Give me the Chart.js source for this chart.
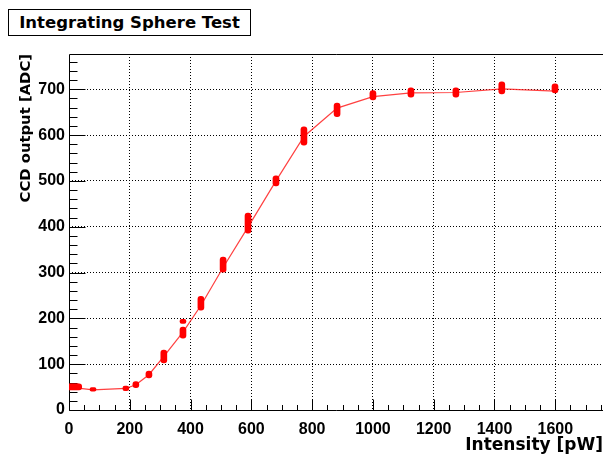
<!DOCTYPE html>
<html><head><meta charset="utf-8">
<script src="https://cdn.jsdelivr.net/npm/chart.js@4/dist/chart.umd.min.js"></script>
<style>
html,body{margin:0;padding:0;background:#fff;overflow:hidden;}
#wrap{position:relative;width:603px;height:455px;}
canvas{position:absolute;left:0;top:0;}
#title{position:absolute;left:8px;top:9px;width:241px;height:25px;border:1px solid #000;
  font:bold 16.5px "DejaVu Sans";line-height:25px;text-align:center;background:#fff;color:#000;white-space:nowrap;}
</style></head>
<body><div id="wrap"><canvas id="c" width="603" height="455"></canvas><div id="title">Integrating Sphere Test</div></div>
<script>
// measured clusters (vertical extents of the stacked red markers)
const measX    = [2, 8, 14, 20, 26, 32, 79, 187, 220, 263, 312, 375, 375, 434, 507, 589, 681, 773, 882, 1000, 1125, 1273, 1424, 1599];
const measLow  = [44, 44, 44, 44, 44, 44, 41, 42, 49, 70, 103, 157, 189, 218, 301, 386, 489, 578, 640, 677, 683, 683, 690, 692];
const measHigh = [57, 57, 57, 57, 57, 57, 49, 52, 62, 85, 131, 181, 198, 248, 334, 430, 511, 618, 670, 697, 703, 703, 716, 712];
// connecting curve
const lineX = [2, 79, 187, 220, 263, 312, 375, 434, 507, 589, 681, 773, 882, 1000, 1125, 1273, 1424, 1599];
const lineY = [50, 44, 47, 55, 77, 117, 170, 228, 311, 399, 500, 597, 659, 684, 692, 693, 701, 696];
// axes
const xMin = 0, xMax = 1757, xMajor = 200, xMinor = 50;
const yMin = 0, yMax = 777, yMajor = 100, yMinor = 20;
const xTitle = 'Intensity [pW]';
const yTitle = 'CCD output [ADC]';

const frameTicks = {
  id: 'frameTicks',
  beforeDatasetsDraw(chart) {
    const {ctx, chartArea: a, scales: {x, y}} = chart;
    ctx.save();
    ctx.strokeStyle = '#000';
    ctx.lineWidth = 1;
    ctx.beginPath();
    const L = Math.round(a.left) + 0.5, T = Math.round(a.top) + 0.5, B = Math.round(a.bottom) + 0.5, R = a.right + 2;
    ctx.moveTo(R, T); ctx.lineTo(L, T); ctx.lineTo(L, B); ctx.lineTo(R, B);
    for (let v = xMin; v <= x.max; v += xMinor) {
      const px = Math.round(x.getPixelForValue(v)) + 0.5;
      const len = (v % xMajor === 0) ? 11 : 5.5;
      ctx.moveTo(px, B); ctx.lineTo(px, B - len);
    }
    for (let v = yMin; v <= y.max; v += yMinor) {
      const py = Math.round(y.getPixelForValue(v)) + 0.5;
      const len = (v % yMajor === 0) ? 16 : 8;
      ctx.moveTo(L, py); ctx.lineTo(L + len, py);
    }
    ctx.stroke();
    ctx.restore();
  }
};

const tickFont = {family: 'Liberation Sans', weight: 'bold', size: 16};
const gridColor = c => (c.tick && c.tick.value === 0) ? 'rgba(0,0,0,0)' : '#000';
const plain = v => String(v);

new Chart(document.getElementById('c'), {
  data: {
    datasets: [
      {
        type: 'bar',
        data: measX.map((x, i) => ({x: x, y: [measLow[i], measHigh[i]]})),
        backgroundColor: '#ff0000',
        barThickness: 6,
        borderRadius: 3,
        borderSkipped: false,
        order: 0
      },
      {
        type: 'line',
        data: lineX.map((x, i) => ({x: x, y: lineY[i]})),
        borderColor: 'rgba(255,30,30,0.85)',
        borderWidth: 1.2,
        pointRadius: 0,
        tension: 0,
        fill: false,
        order: 1
      }
    ]
  },
  options: {
    responsive: false,
    animation: false,
    events: [],
    layout: {padding: {top: 54, left: 0, right: 0, bottom: 0}},
    plugins: {legend: {display: false}, tooltip: {enabled: false}, title: {display: false}},
    scales: {
      x: {
        type: 'linear', min: xMin, max: xMax, offset: false,
        afterFit(s) { s.height = 45; },
        ticks: {stepSize: xMajor, includeBounds: false, autoSkip: false, maxRotation: 0, color: '#000', font: tickFont, padding: 10, callback: plain},
        grid: {offset: false, color: gridColor, lineWidth: 1, drawTicks: false},
        border: {display: false, dash: [1, 2]},
        title: {display: true, text: xTitle, align: 'end', color: '#000',
          font: {family: 'DejaVu Sans', weight: 'bold', size: 17, lineHeight: 1}, padding: {top: 0, bottom: 0.5}}
      },
      y: {
        type: 'linear', min: yMin, max: yMax,
        afterFit(s) { s.width = 69; },
        ticks: {stepSize: yMajor, includeBounds: false, color: '#000', font: tickFont, padding: 4, callback: plain},
        grid: {color: gridColor, lineWidth: 1, drawTicks: false},
        border: {display: false, dash: [1, 2]},
        title: {display: true, text: yTitle, align: 'end', color: '#000',
          font: {family: 'DejaVu Sans', weight: 'bold', size: 14.8, lineHeight: 1}, padding: {top: 18.5, bottom: 0}}
      }
    }
  },
  plugins: [frameTicks]
});
</script>
</body></html>
